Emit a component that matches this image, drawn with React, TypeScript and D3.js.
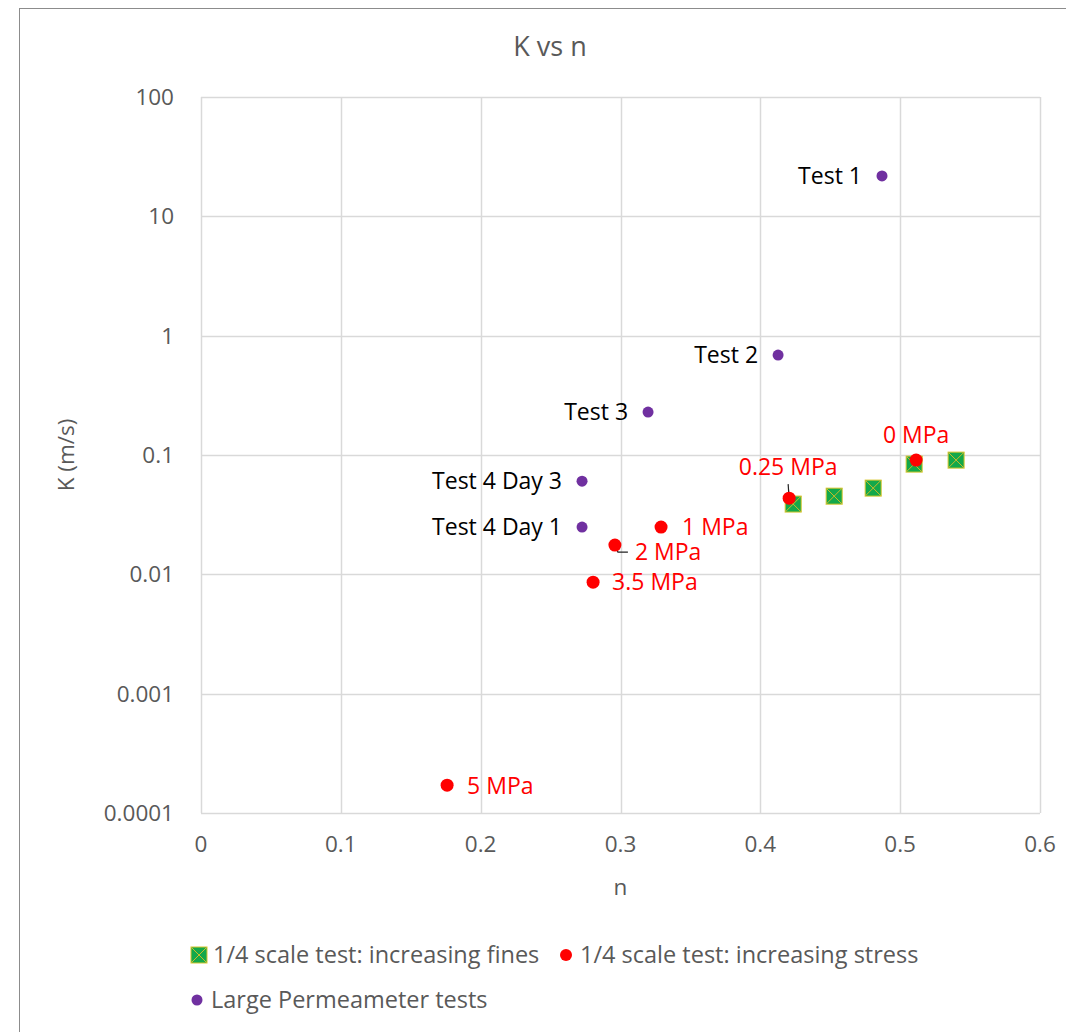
import React, { useEffect, useRef } from "react";
import * as d3 from "d3";

// 1/4 scale test: increasing fines
const finesN = [0.4235, 0.4528, 0.4807, 0.51, 0.54];
const finesK = [0.0388, 0.0452, 0.0528, 0.0839, 0.0906];

// 1/4 scale test: increasing stress
const stressN = [0.5114, 0.4206, 0.329, 0.296, 0.2804, 0.176];
const stressK = [0.0906, 0.0435, 0.0249, 0.0176, 0.0086, 0.000171];
const stressLabels = ["0 MPa", "0.25 MPa", "1 MPa", "2 MPa", "3.5 MPa", "5 MPa"];

// Large Permeameter tests
const largeN = [0.487, 0.4127, 0.3197, 0.2725, 0.2725];
const largeK = [21.8, 0.687, 0.229, 0.0604, 0.0249];
const largeLabels = ["Test 1", "Test 2", "Test 3", "Test 4 Day 3", "Test 4 Day 1"];

const xTicks = [0, 0.1, 0.2, 0.3, 0.4, 0.5, 0.6];
const yTicks = [0.0001, 0.001, 0.01, 0.1, 1, 10, 100];

const legendNames = [
  "1/4 scale test: increasing fines",
  "1/4 scale test: increasing stress",
  "Large Permeameter tests",
];

// label placement for the stress series (dx, dy, anchor)
const stressLabelPos = [
  { dx: 0, dy: -25, anchor: "middle" },
  { dx: -1, dy: -31, anchor: "middle" },
  { dx: 21, dy: 0, anchor: "start" },
  { dx: 20, dy: 7, anchor: "start" },
  { dx: 19, dy: 0, anchor: "start" },
  { dx: 20, dy: 1, anchor: "start" },
];

const FONT = "'Open Sans', 'Noto Sans', sans-serif";

const App = () => {
  const svgRef = useRef(null);

  useEffect(() => {
    const root = d3.select(svgRef.current);
    root.selectAll("*").remove();

    const margin = { top: 97, right: 26, bottom: 219, left: 201 };
    const W = 1066;
    const H = 1032;
    const width = W - margin.left - margin.right;
    const height = H - margin.top - margin.bottom;

    root.attr("width", W).attr("height", H).attr("viewBox", `0 0 ${W} ${H}`);

    root
      .append("rect")
      .attr("width", W)
      .attr("height", H)
      .attr("fill", "#fff");

    // outer chart border
    root
      .append("rect")
      .attr("x", 19.5)
      .attr("y", 8.5)
      .attr("width", W + 10)
      .attr("height", H + 10)
      .attr("fill", "none")
      .attr("stroke", "#8c8c8c")
      .attr("stroke-width", 1);

    const svg = root
      .append("g")
      .attr("transform", `translate(${margin.left},${margin.top})`);

    const x = d3.scaleLinear().domain([0, 0.6]).range([0, width]);
    const y = d3.scaleLog().domain([0.0001, 100]).range([height, 0]);

    // grid
    svg
      .append("g")
      .selectAll("line")
      .data(xTicks)
      .join("line")
      .attr("x1", (d) => Math.round(x(d)) + 0.5)
      .attr("x2", (d) => Math.round(x(d)) + 0.5)
      .attr("y1", 0)
      .attr("y2", height)
      .attr("stroke", "#d9d9d9")
      .attr("stroke-width", 1.5);

    svg
      .append("g")
      .selectAll("line")
      .data(yTicks)
      .join("line")
      .attr("x1", 0)
      .attr("x2", width)
      .attr("y1", (d) => Math.round(y(d)) + 0.5)
      .attr("y2", (d) => Math.round(y(d)) + 0.5)
      .attr("stroke", "#d9d9d9")
      .attr("stroke-width", 1.5);

    // tick labels
    svg
      .append("g")
      .selectAll("text")
      .data(xTicks)
      .join("text")
      .attr("x", (d) => x(d))
      .attr("y", height + 39)
      .attr("text-anchor", "middle")
      .attr("font-family", FONT)
      .attr("font-size", 22.5)
      .attr("fill", "#595959")
      .text((d) => d3.format("~g")(d));

    svg
      .append("g")
      .selectAll("text")
      .data(yTicks)
      .join("text")
      .attr("x", -27)
      .attr("y", (d) => y(d))
      .attr("dy", "0.35em")
      .attr("text-anchor", "end")
      .attr("font-family", FONT)
      .attr("font-size", 22.5)
      .attr("fill", "#595959")
      .text((d) => (d < 1 ? d.toFixed(Math.round(-Math.log10(d))) : String(d)));

    // title + axis titles
    root
      .append("text")
      .attr("x", 550)
      .attr("y", 56)
      .attr("text-anchor", "middle")
      .attr("font-family", FONT)
      .attr("font-size", 27)
      .attr("fill", "#595959")
      .text("K vs n");

    root
      .append("text")
      .attr("x", margin.left + width / 2)
      .attr("y", 895)
      .attr("text-anchor", "middle")
      .attr("font-family", FONT)
      .attr("font-size", 22.5)
      .attr("fill", "#595959")
      .text("n");

    root
      .append("text")
      .attr("transform", `translate(74,${margin.top + height / 2}) rotate(-90)`)
      .attr("text-anchor", "middle")
      .attr("font-family", FONT)
      .attr("font-size", 22.5)
      .attr("fill", "#595959")
      .text("K (m/s)");

    // leader lines
    const lead = svg.append("g").attr("stroke", "#222").attr("fill", "none").attr("stroke-width", 1.2);
    lead
      .append("line")
      .attr("x1", x(stressN[1]) - 1)
      .attr("y1", y(stressK[1]) - 14)
      .attr("x2", x(stressN[1]))
      .attr("y2", y(stressK[1]));
    lead
      .append("polyline")
      .attr("points", () => {
        const px = x(stressN[3]);
        const py = y(stressK[3]);
        return `${px},${py} ${px + 3},${py + 7} ${px + 13},${py + 7}`;
      });

    // increasing fines: green squares with X
    const sq = 8;
    const fines = svg
      .append("g")
      .selectAll("g")
      .data(finesN.map((n, i) => ({ n, k: finesK[i] })))
      .join("g")
      .attr("transform", (d) => `translate(${x(d.n)},${y(d.k)})`);
    fines
      .append("rect")
      .attr("x", -sq)
      .attr("y", -sq)
      .attr("width", sq * 2)
      .attr("height", sq * 2)
      .attr("fill", "#13a84a")
      .attr("stroke", "#d8c62c")
      .attr("stroke-width", 1);
    fines
      .append("path")
      .attr("d", `M${-sq},${-sq}L${sq},${sq}M${sq},${-sq}L${-sq},${sq}`)
      .attr("stroke", "#c9bc2a")
      .attr("stroke-width", 1);

    // increasing stress: red dots
    svg
      .append("g")
      .selectAll("circle")
      .data(stressN.map((n, i) => ({ n, k: stressK[i] })))
      .join("circle")
      .attr("cx", (d) => x(d.n))
      .attr("cy", (d) => y(d.k))
      .attr("r", 6.5)
      .attr("fill", "#ff0000");

    svg
      .append("g")
      .selectAll("text")
      .data(stressN.map((n, i) => ({ n, k: stressK[i], label: stressLabels[i], pos: stressLabelPos[i] })))
      .join("text")
      .attr("x", (d) => x(d.n) + d.pos.dx)
      .attr("y", (d) => y(d.k) + d.pos.dy)
      .attr("dy", "0.35em")
      .attr("text-anchor", (d) => d.pos.anchor)
      .attr("font-family", FONT)
      .attr("font-size", 23)
      .attr("fill", "#ff0000")
      .text((d) => d.label);

    // large permeameter: purple dots
    svg
      .append("g")
      .selectAll("circle")
      .data(largeN.map((n, i) => ({ n, k: largeK[i] })))
      .join("circle")
      .attr("cx", (d) => x(d.n))
      .attr("cy", (d) => y(d.k))
      .attr("r", 5.5)
      .attr("fill", "#7030a0");

    svg
      .append("g")
      .selectAll("text")
      .data(largeN.map((n, i) => ({ n, k: largeK[i], label: largeLabels[i] })))
      .join("text")
      .attr("x", (d) => x(d.n) - 20)
      .attr("y", (d) => y(d.k))
      .attr("dy", "0.35em")
      .attr("text-anchor", "end")
      .attr("font-family", FONT)
      .attr("font-size", 23)
      .attr("fill", "#000")
      .text((d) => d.label);

    // legend
    const lg = root.append("g").attr("font-family", FONT).attr("font-size", 23.5).attr("fill", "#595959");
    const items = [
      { x: 199, y: 955, type: "square" },
      { x: 566, y: 955, type: "red" },
      { x: 197, y: 1000, type: "purple" },
    ];
    items.forEach((it, i) => {
      const g = lg.append("g").attr("transform", `translate(${it.x},${it.y})`);
      if (it.type === "square") {
        g.append("rect")
          .attr("x", -8)
          .attr("y", -8)
          .attr("width", 16)
          .attr("height", 16)
          .attr("fill", "#13a84a")
          .attr("stroke", "#d8c62c");
        g.append("path")
          .attr("d", "M-8,-8L8,8M8,-8L-8,8")
          .attr("stroke", "#c9bc2a");
      } else {
        g.append("circle")
          .attr("r", it.type === "red" ? 6 : 5.5)
          .attr("fill", it.type === "red" ? "#ff0000" : "#7030a0");
      }
      g.append("text")
        .attr("x", 14)
        .attr("dy", "0.35em")
        .text(legendNames[i]);
    });
  }, []);

  return (
    <div style={{ position: "absolute", left: 0, top: 0, width: 1066, height: 1032, background: "#fff" }}>
      <svg ref={svgRef} style={{ display: "block" }} />
    </div>
  );
};

export default App;
